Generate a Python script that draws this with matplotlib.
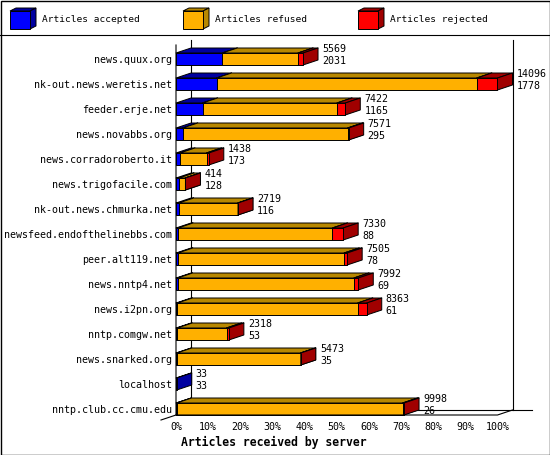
import numpy as np
import matplotlib.pyplot as plt
from matplotlib.patches import Polygon, Rectangle

hosts = ['news.quux.org', 'nk-out.news.weretis.net', 'feeder.erje.net',
         'news.novabbs.org', 'news.corradoroberto.it', 'news.trigofacile.com',
         'nk-out.news.chmurka.net', 'newsfeed.endofthelinebbs.com',
         'peer.alt119.net', 'news.nntp4.net', 'news.i2pn.org',
         'nntp.comgw.net', 'news.snarked.org', 'localhost',
         'nntp.club.cc.cmu.edu']
offered = np.array([5569, 14096, 7422, 7571, 1438, 414, 2719, 7330,
                    7505, 7992, 8363, 2318, 5473, 33, 9998])
accepted = np.array([2031, 1778, 1165, 295, 173, 128, 116, 88,
                     78, 69, 61, 53, 35, 33, 26])
rejected = np.array([219, 908, 365, 45, 100, 5, 10, 470,
                     131, 190, 395, 100, 10, 0, 60])
refused = offered - accepted - rejected

names = ['Articles accepted', 'Articles refused', 'Articles rejected']
front_cols = ['#0000ff', '#ffb000', '#ff0000']
side_cols = ['#0000a0', '#b88800', '#a00000']

plt.rcParams['font.family'] = 'DejaVu Sans Mono'
fs = 7.2

W, H = 550, 455
fig = plt.figure(figsize=(W / 100, H / 100), dpi=100)

# frame + legend, in pixel units
bg = fig.add_axes([0, 0, 1, 1])
bg.set_xlim(0, W)
bg.set_ylim(H, 0)
bg.axis('off')
bg.add_patch(Rectangle((0.5, 0.5), W - 1, H - 1, fill=False, ec='black', lw=1))
bg.plot([0, W], [35, 35], color='black', lw=0.8)
for k, x0 in enumerate([10, 183, 358]):
    bg.add_patch(Polygon([(x0, 11), (x0 + 6, 8), (x0 + 26, 8), (x0 + 20, 11)],
                         fc=side_cols[k], ec='black', lw=0.7))
    bg.add_patch(Polygon([(x0 + 20, 11), (x0 + 26, 8), (x0 + 26, 26), (x0 + 20, 29)],
                         fc=side_cols[k], ec='black', lw=0.7))
    bg.add_patch(Rectangle((x0, 11), 20, 18, fc=front_cols[k], ec='black', lw=0.7))
    bg.text(x0 + 32, 20, names[k], fontsize=6.8, va='center')

# main plot
n = len(hosts)
ax = fig.add_axes([176 / W, 40 / H, 321.5 / W, 375 / H])
ax.set_xlim(0, 100)
h = 0.24
top, bottom = -0.76, n - 1 + h
ax.set_ylim(bottom, top)
ax.patch.set_visible(False)
for s in ax.spines.values():
    s.set_visible(False)

dx = 15 / 321.5 * 100   # depth, 15 px right
dy = 5 / 25             # depth, 5 px up

# axis frame
ln = dict(color='black', lw=0.8, clip_on=False)
ax.plot([dx, dx], [top, bottom - dy], zorder=1, **ln)
ax.plot([100 + dx, 100 + dx], [top, bottom - dy], zorder=1, **ln)
ax.plot([dx, 100 + dx + 19 / 3.215], [bottom - dy, bottom - dy], zorder=1, **ln)
ax.plot([0, 0, -dx], [top + dy, bottom, bottom + dy], zorder=20, **ln)
ax.plot([0, 100, 100 + dx], [bottom, bottom, bottom - dy], zorder=20, **ln)

pct = np.vstack([accepted, refused, rejected]) / offered.max() * 100
pe = dict(ec='black', lw=0.7, clip_on=False, joinstyle='round')
for i in range(n):
    left = 0
    for k in range(3):
        w = pct[k, i]
        if w <= 0:
            continue
        r = left + w
        z = 3 + k
        ax.add_patch(Polygon([(left, i - h), (left + dx, i - h - dy),
                              (r + dx, i - h - dy), (r, i - h)],
                             fc=side_cols[k], zorder=z, **pe))
        ax.add_patch(Polygon([(r, i - h), (r + dx, i - h - dy),
                              (r + dx, i + h - dy), (r, i + h)],
                             fc=side_cols[k], zorder=z, **pe))
        ax.add_patch(Rectangle((left, i - h), w, 2 * h,
                               fc=front_cols[k], zorder=z, **pe))
        left = r
    xe = offered[i] / offered.max() * 100 + dx
    ax.annotate(str(offered[i]), (xe, i - 0.4), xytext=(2.9, 0),
                textcoords='offset points', va='center', fontsize=fs,
                annotation_clip=False, zorder=30)
    ax.annotate(str(accepted[i]), (xe, i + 0.08), xytext=(2.9, 0),
                textcoords='offset points', va='center', fontsize=fs,
                annotation_clip=False, zorder=30)

ticks = np.arange(0, 101, 10)
ax.set_xticks(ticks)
ax.set_xticklabels([f'{t}%' for t in ticks])
ax.set_yticks(range(n))
ax.set_yticklabels(hosts)
ax.tick_params(axis='x', length=0, pad=5, labelsize=fs)
ax.tick_params(axis='y', length=0, pad=2.9, labelsize=fs)

fig.text(274 / W, 1 - 442 / H, 'Articles received by server', ha='center',
         va='center', fontsize=8.3, weight='bold')

fig.savefig('out.png', dpi=100)
